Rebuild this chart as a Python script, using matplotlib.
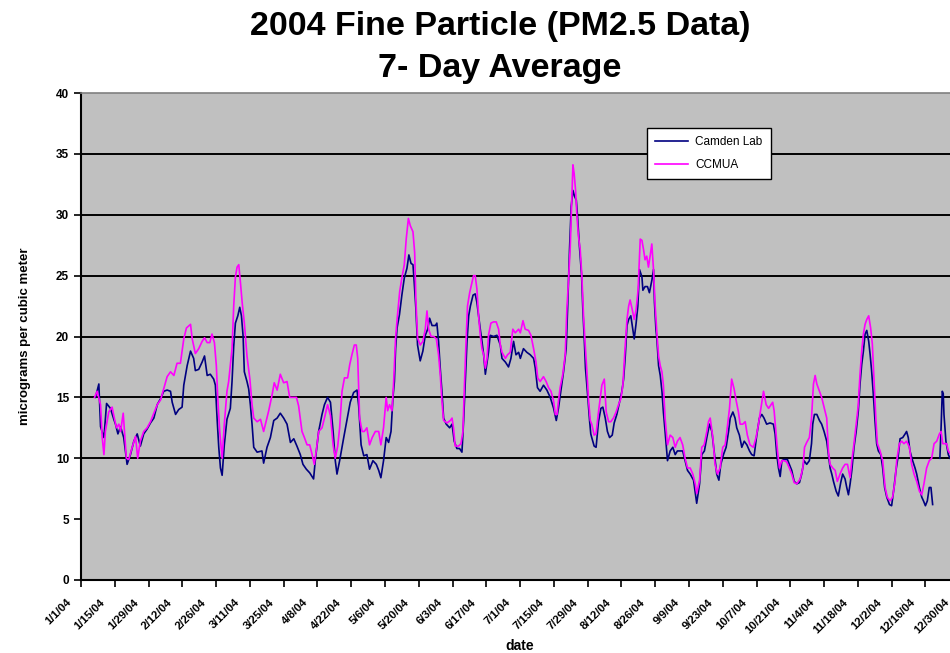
import numpy as np
import pandas as pd
import matplotlib
matplotlib.use('Agg')
import matplotlib.pyplot as plt
import matplotlib.transforms as mtransforms
from matplotlib.lines import Line2D

plt.rcParams['font.family'] = ['Liberation Sans', 'DejaVu Sans']

# day of year (0 = 1/1/04) and 7-day average PM2.5
camden_day = [6.0, 7.4, 8.1, 9.5, 10.6, 12.2, 13.6, 14.3, 15.3, 16.4,
              17.7, 19.1, 20.5, 21.9, 23.3, 24.6, 26.0, 27.4, 28.8, 30.2,
              31.6, 33.0, 34.3, 35.7, 37.1, 37.8, 39.2, 40.5, 41.9, 42.6,
              44.0, 45.4, 46.7, 47.4, 48.8, 50.2, 51.2, 52.3, 53.6, 55.0,
              55.7, 56.4, 57.1, 57.8, 58.5, 59.4, 60.5, 61.9, 62.6, 63.3,
              64.0, 65.0, 65.8, 66.5, 67.2, 67.7, 68.8, 69.5, 70.2, 70.9,
              71.6, 73.0, 75.0, 75.7, 77.1, 78.5, 79.9, 81.3, 82.6, 84.0,
              85.4, 86.8, 88.2, 89.5, 90.9, 92.0, 93.4, 94.8, 96.4, 97.1,
              98.5, 99.9, 100.9, 102.2, 103.4, 104.5, 105.4, 106.1, 107.2, 108.9,
              110.3, 111.6, 113.0, 114.4, 115.1, 116.1, 117.2, 118.5, 119.6, 121.0,
              122.4, 123.4, 124.3, 125.4, 126.5, 127.5, 128.5, 129.3, 129.9, 130.4,
              131.0, 132.0, 133.0, 134.0, 135.1, 135.9, 136.8, 137.6, 138.1, 138.8,
              139.5, 140.6, 141.7, 142.7, 143.7, 144.5, 145.5, 146.9, 147.5, 148.2,
              148.9, 149.6, 150.3, 151.4, 152.8, 153.8, 154.7, 155.8, 156.9, 157.9,
              158.6, 159.3, 160.0, 160.7, 161.4, 162.5, 163.4, 164.1, 164.8, 165.5,
              166.2, 166.9, 167.6, 168.3, 168.9, 169.6, 171.0, 172.4, 173.8, 174.5,
              175.9, 177.2, 178.2, 179.3, 180.3, 181.4, 182.1, 183.4, 184.8, 186.2,
              187.6, 188.3, 189.2, 190.3, 191.7, 193.1, 194.5, 195.9, 197.0, 197.9,
              198.9, 200.0, 201.1, 201.7, 202.5, 203.2, 203.9, 204.6, 205.3, 205.8,
              206.6, 207.5, 208.0, 208.6, 209.1, 210.0, 210.8, 211.3, 211.7, 212.7,
              213.5, 214.5, 215.5, 216.3, 217.3, 218.2, 219.1, 220.2, 221.0, 222.1,
              223.2, 224.2, 224.9, 225.6, 226.3, 227.0, 227.9, 228.7, 229.3, 230.1,
              230.8, 231.5, 232.5, 232.9, 233.8, 234.8, 235.6, 236.6, 237.3, 237.7,
              238.3, 238.7, 239.4, 240.1, 240.8, 241.4, 242.1, 243.1, 244.2, 245.3,
              246.3, 247.2, 248.3, 249.4, 250.4, 251.4, 252.5, 253.9, 255.2, 256.4,
              257.3, 258.4, 259.4, 260.5, 261.5, 262.4, 263.5, 264.4, 265.2, 266.3,
              267.4, 268.4, 269.1, 270.2, 271.1, 271.8, 272.9, 273.9, 274.9, 276.0,
              277.1, 278.0, 279.0, 280.1, 281.2, 282.2, 283.1, 284.2, 285.6, 287.0,
              287.7, 288.4, 289.1, 289.8, 290.5, 291.4, 292.8, 293.6, 294.6, 295.6,
              296.7, 297.8, 298.7, 299.7, 300.8, 301.9, 302.8, 303.3, 304.0, 305.0,
              306.1, 307.0, 308.0, 309.1, 309.8, 310.5, 311.2, 311.9, 313.0, 313.9,
              314.9, 315.7, 316.7, 317.4, 318.1, 318.8, 319.5, 320.4, 321.3, 322.2,
              322.9, 323.6, 324.3, 325.0, 325.7, 326.5, 327.1, 327.7, 328.4, 329.1,
              329.8, 330.5, 331.5, 332.3, 333.1, 334.0, 335.1, 336.0, 337.0, 337.8,
              338.8, 339.5, 340.6, 341.6, 342.2, 342.9, 343.6, 344.7, 345.7, 346.4,
              347.5, 348.5, 349.2, 350.0, 350.8, 351.6, 352.3, 353.0, 354.5, 356.0,
              356.5, 357.0, 357.4, 357.7, 358.5, 359.5, 360.2]
camden_val = [15.0, 16.1, 12.6, 11.7, 14.5, 14.1, 13.2, 12.8, 12.0, 12.6,
              11.7, 9.5, 10.3, 11.4, 12.0, 11.0, 12.0, 12.4, 12.9, 13.3,
              14.4, 14.9, 15.5, 15.6, 15.5, 14.6, 13.6, 14.0, 14.2, 16.0,
              17.6, 18.8, 18.2, 17.2, 17.3, 17.9, 18.4, 16.8, 16.9, 16.5,
              16.0, 13.3, 10.9, 9.2, 8.6, 11.1, 13.2, 14.1, 16.3, 19.2,
              21.1, 21.7, 22.4, 21.7, 20.0, 17.1, 16.3, 15.7, 14.4, 12.8,
              10.9, 10.5, 10.6, 9.6, 10.9, 11.7, 13.1, 13.3, 13.7, 13.3,
              12.8, 11.3, 11.6, 11.0, 10.3, 9.5, 9.1, 8.8, 8.3, 9.8,
              12.2, 13.6, 14.4, 15.0, 14.6, 12.2, 9.8, 8.7, 9.8, 11.7,
              13.2, 14.6, 15.4, 15.6, 14.3, 11.1, 10.2, 10.3, 9.1, 9.8,
              9.5, 9.0, 8.4, 9.8, 11.7, 11.3, 12.2, 15.0, 16.3, 19.0,
              20.7, 21.8, 23.4, 24.8, 25.6, 26.7, 26.0, 25.9, 24.5, 22.3,
              19.3, 18.0, 18.8, 20.1, 20.6, 21.5, 20.9, 20.9, 21.1, 19.6,
              17.4, 15.5, 13.3, 12.8, 12.5, 12.8, 11.4, 10.8, 10.8, 10.5,
              13.1, 16.3, 19.6, 21.7, 22.5, 23.4, 23.5, 22.8, 21.7, 20.6,
              19.6, 18.5, 16.9, 17.9, 18.7, 20.1, 20.0, 20.1, 19.3, 18.2,
              17.9, 17.5, 18.2, 19.6, 18.5, 18.7, 18.2, 19.0, 18.7, 18.5,
              18.2, 17.4, 15.8, 15.5, 16.0, 15.6, 15.0, 14.1, 13.1, 14.1,
              15.5, 17.1, 19.0, 22.3, 27.2, 30.7, 32.0, 31.5, 31.2, 29.9,
              27.4, 25.0, 22.3, 19.8, 17.4, 15.2, 13.1, 12.0, 11.7, 11.0,
              10.9, 13.0, 14.1, 14.2, 13.3, 12.2, 11.7, 11.9, 12.9, 13.6,
              14.6, 15.5, 16.5, 18.4, 20.9, 21.4, 21.7, 20.6, 19.8, 21.1,
              22.5, 25.5, 24.9, 23.8, 24.1, 24.1, 23.6, 24.6, 25.5, 22.8,
              20.6, 19.8, 17.6, 16.8, 15.5, 13.8, 12.2, 9.8, 10.6, 10.9,
              10.3, 10.6, 10.6, 10.6, 9.8, 9.0, 8.7, 8.2, 6.3, 7.9,
              10.3, 10.6, 11.7, 12.8, 12.2, 10.6, 8.7, 8.2, 9.5, 10.3,
              10.9, 12.2, 13.3, 13.8, 13.3, 12.5, 11.9, 10.9, 11.4, 11.1,
              10.6, 10.3, 10.2, 11.9, 13.3, 13.6, 13.3, 12.8, 12.9, 12.8,
              12.0, 10.3, 9.2, 8.5, 9.8, 9.9, 9.9, 9.5, 9.0, 8.1,
              7.9, 8.0, 8.7, 9.8, 9.5, 9.8, 11.2, 12.8, 13.6, 13.6,
              13.1, 12.8, 12.2, 11.4, 10.3, 9.2, 8.7, 8.1, 7.3, 6.9,
              8.0, 8.7, 8.3, 7.6, 7.0, 7.9, 9.0, 10.9, 12.2, 13.9,
              16.1, 17.7, 18.8, 20.2, 20.5, 19.6, 18.5, 17.2, 15.3, 13.1,
              11.2, 10.6, 10.3, 9.2, 7.6, 6.8, 6.2, 6.1, 7.6, 9.0,
              10.3, 11.6, 11.7, 12.0, 12.2, 11.7, 10.6, 9.8, 9.2, 8.7,
              7.6, 6.8, 6.5, 6.1, 6.5, 7.6, 7.6, 6.2, np.nan, 10.0,
              12.5, 15.5, 15.3, 13.6, 11.4, 10.3, 10.0]

ccmua_day = [5.6, 6.7, 8.1, 8.8, 9.5, 10.1, 11.5, 12.9, 13.6, 14.7,
             15.7, 16.4, 17.5, 18.2, 18.8, 19.8, 21.2, 22.6, 23.5, 24.6,
             26.0, 27.4, 28.8, 30.2, 31.6, 33.0, 34.3, 35.7, 37.1, 38.5,
             39.8, 41.2, 42.6, 43.7, 45.4, 46.1, 47.4, 48.8, 50.2, 51.2,
             52.3, 53.4, 54.3, 55.3, 56.1, 56.7, 57.5, 58.5, 59.4, 60.5,
             61.2, 62.6, 63.3, 64.0, 64.7, 65.4, 66.1, 66.8, 67.7, 68.8,
             70.0, 70.9, 71.6, 73.0, 74.4, 75.7, 76.8, 77.8, 79.2, 80.1,
             81.3, 82.6, 84.0, 85.4, 86.5, 87.5, 89.3, 90.2, 91.6, 92.6,
             93.7, 94.8, 95.8, 96.7, 97.5, 98.5, 99.9, 100.9, 102.2, 103.4,
             104.5, 105.4, 106.4, 107.2, 108.2, 109.2, 110.5, 111.4, 112.3, 113.3,
             114.1, 114.7, 115.5, 116.5, 117.4, 118.5, 119.6, 120.7, 122.0, 123.4,
             124.3, 125.4, 126.5, 127.1, 127.9, 128.9, 129.6, 130.4, 131.2, 132.1,
             133.0, 134.0, 134.8, 135.7, 136.5, 137.6, 138.3, 138.8, 139.5, 140.6,
             141.7, 142.7, 143.4, 144.1, 145.1, 146.2, 147.3, 148.2, 148.9, 149.6,
             150.3, 151.7, 153.1, 153.8, 154.4, 155.1, 156.5, 157.5, 158.3, 158.9,
             159.6, 160.2, 161.1, 162.0, 162.7, 163.4, 164.1, 164.8, 165.5, 166.2,
             166.9, 167.6, 168.3, 168.9, 169.9, 171.0, 172.1, 173.1, 173.8, 174.5,
             175.9, 176.8, 177.9, 179.0, 180.0, 181.4, 182.1, 183.2, 184.1, 185.5,
             186.5, 187.6, 188.6, 189.3, 190.3, 191.7, 192.8, 193.8, 194.8, 195.9,
             196.6, 197.3, 197.9, 198.6, 199.7, 200.7, 201.4, 202.1, 202.8, 203.5,
             203.9, 204.4, 205.0, 205.5, 206.2, 206.9, 207.6, 208.3, 209.0, 209.7,
             210.4, 211.1, 211.7, 212.7, 213.5, 214.5, 215.2, 215.9, 216.9, 217.7,
             218.7, 219.6, 220.7, 221.8, 222.8, 223.8, 224.6, 225.4, 226.3, 227.0,
             227.6, 228.5, 229.3, 230.1, 230.9, 231.8, 232.5, 233.2, 233.8, 234.5,
             235.2, 235.9, 236.6, 237.3, 238.0, 238.7, 239.4, 240.1, 240.8, 241.4,
             242.1, 243.1, 244.2, 245.3, 246.3, 247.2, 248.3, 249.4, 250.4, 251.4,
             252.5, 253.6, 254.6, 255.2, 256.4, 257.3, 258.3, 259.4, 260.1, 260.8,
             261.9, 262.8, 263.8, 264.9, 266.0, 267.0, 267.7, 268.8, 269.7, 270.7,
             271.5, 272.5, 273.2, 274.3, 275.3, 276.2, 277.3, 278.7, 279.8, 280.8,
             281.8, 282.9, 284.0, 285.0, 286.7, 287.3, 288.1, 288.7, 289.5, 290.5,
             291.4, 292.5, 293.6, 294.6, 295.6, 296.7, 298.1, 299.2, 299.9, 300.8,
             301.9, 302.8, 303.6, 304.3, 305.0, 306.1, 307.0, 308.0, 309.1, 309.8,
             310.5, 311.6, 312.6, 313.5, 314.6, 315.7, 316.7, 317.7, 318.8, 319.5,
             320.4, 321.3, 322.1, 322.9, 323.6, 324.3, 325.0, 325.7, 326.5, 327.3,
             328.0, 328.7, 329.5, 330.1, 331.2, 332.3, 333.3, 334.2, 335.3, 336.4,
             337.4, 338.1, 339.2, 340.2, 341.1, 342.2, 343.4, 344.3, 345.3, 346.4,
             347.5, 348.5, 349.4, 350.5, 351.6, 352.6, 353.6, 354.7, 355.8, 356.5,
             357.2, 358.0, 358.8, 359.5, 360.2]
ccmua_val = [15.0, 15.5, 14.4, 11.7, 10.3, 12.2, 13.8, 14.2, 13.5, 12.5,
             12.8, 12.2, 13.7, 11.7, 10.0, 9.9, 10.9, 11.8, 10.0, 11.4,
             12.2, 12.5, 13.0, 13.7, 14.4, 14.8, 15.7, 16.7, 17.1, 16.8,
             17.8, 17.8, 19.8, 20.7, 21.0, 19.8, 18.6, 19.0, 19.6, 19.9,
             19.5, 19.5, 20.2, 19.5, 17.6, 14.9, 12.2, 10.0, 12.8, 15.5,
             16.3, 19.0, 22.5, 24.9, 25.7, 25.9, 24.4, 22.8, 21.1, 18.4,
             16.5, 14.4, 13.3, 13.0, 13.2, 12.2, 13.1, 13.9, 15.2, 16.2,
             15.6, 16.9, 16.2, 16.3, 15.0, 15.0, 15.0, 14.3, 12.2, 11.7,
             11.1, 11.1, 10.3, 9.5, 10.6, 12.2, 12.5, 13.3, 14.4, 13.5,
             11.1, 10.0, 11.0, 12.5, 15.5, 16.6, 16.6, 17.7, 18.5, 19.3,
             19.3, 18.2, 13.3, 12.2, 12.2, 12.5, 11.1, 11.7, 12.2, 12.2,
             11.1, 12.5, 15.0, 13.9, 14.4, 13.9, 16.3, 19.9, 21.8, 23.7,
             24.8, 25.9, 28.0, 29.7, 29.1, 28.6, 26.9, 23.1, 19.9, 19.3,
             19.6, 20.6, 22.1, 20.6, 20.0, 20.0, 19.8, 18.5, 16.9, 14.7,
             13.1, 12.9, 13.1, 13.3, 12.5, 11.0, 11.0, 11.2, 12.2, 15.8,
             19.6, 22.5, 23.6, 24.4, 25.0, 25.0, 23.9, 21.7, 20.1, 19.0,
             18.5, 17.4, 18.2, 20.1, 21.1, 21.2, 21.2, 20.6, 19.3, 18.7,
             18.2, 18.5, 18.7, 20.6, 20.3, 20.6, 20.3, 21.3, 20.6, 20.5,
             20.1, 19.0, 17.9, 16.6, 16.3, 16.7, 16.3, 15.8, 15.5, 14.7,
             13.6, 13.6, 14.7, 15.8, 16.9, 18.5, 22.3, 24.7, 27.4, 31.5,
             34.1, 33.4, 32.0, 30.1, 28.2, 27.2, 25.0, 21.7, 19.3, 17.1,
             14.7, 13.1, 12.8, 11.9, 12.0, 13.8, 14.9, 16.0, 16.5, 13.8,
             13.0, 13.0, 13.3, 13.8, 14.4, 14.9, 16.0, 18.7, 21.4, 22.5,
             23.0, 22.2, 21.4, 22.2, 23.8, 28.0, 27.9, 27.1, 26.3, 26.6,
             25.7, 26.6, 27.6, 25.5, 22.5, 20.3, 18.4, 17.6, 17.1, 16.0,
             13.3, 11.1, 11.9, 11.7, 10.9, 11.4, 11.7, 11.1, 10.0, 9.2,
             9.2, 8.7, 7.9, 7.1, 8.2, 10.9, 11.1, 12.2, 13.0, 13.3,
             11.7, 9.5, 8.7, 9.2, 10.9, 11.1, 12.2, 14.1, 16.5, 15.7,
             14.8, 13.8, 12.8, 12.8, 13.0, 11.9, 11.1, 10.9, 11.7, 12.8,
             14.1, 15.5, 14.4, 14.1, 14.6, 13.9, 12.0, 10.6, 9.2, 9.8,
             9.8, 9.7, 9.2, 8.7, 8.0, 7.9, 8.3, 9.2, 10.9, 11.3,
             11.7, 13.3, 16.1, 16.8, 16.1, 15.5, 15.0, 14.2, 13.3, 10.6,
             9.5, 9.2, 9.0, 8.1, 8.7, 9.2, 9.5, 9.5, 8.4, 9.8,
             11.2, 12.8, 14.2, 16.9, 18.8, 20.2, 21.0, 21.4, 21.7, 20.7,
             19.4, 16.4, 13.1, 11.2, 10.6, 9.8, 7.6, 6.8, 6.5, 6.8,
             8.1, 9.8, 11.2, 11.4, 11.2, 11.4, 10.9, 9.5, 8.7, 8.1,
             7.3, 7.0, 7.9, 9.2, 9.8, 10.0, 11.2, 11.4, 12.0, 12.2,
             11.2, 11.2, 11.2, 10.6, 10.4]

series_names = ['Camden Lab', 'CCMUA']
series_colors = ['#000080', '#FF00FF']
y_ticks = [0, 5, 10, 15, 20, 25, 30, 35, 40]
grid_levels = [10, 15, 20, 25, 30, 35]

start = pd.Timestamp('2004-01-01')
camden_dates = start + pd.to_timedelta(camden_day, unit='D')
ccmua_dates = start + pd.to_timedelta(ccmua_day, unit='D')
tick_dates = pd.date_range('2004-01-01', '2004-12-30', freq='14D')
tick_labels = [f"{d.month}/{d.day}/04" for d in tick_dates]

W, H = 950, 653
fig = plt.figure(figsize=(W / 100, H / 100), dpi=100)
# plot area runs a bit past the right edge of the picture (cropped original)
ax = fig.add_axes([81 / W, (H - 580) / H, (964 - 81) / W, (580 - 93) / H])
ax.set_facecolor('#C0C0C0')

for lvl in grid_levels:
    ax.axhline(lvl, color='black', lw=1.4, zorder=1)

ax.plot(camden_dates, camden_val, color=series_colors[0], lw=1.2, zorder=3)
ax.plot(ccmua_dates, ccmua_val, color=series_colors[1], lw=1.2, zorder=4)

ax.set_ylim(0, 40)
ax.set_xlim(start, start + pd.Timedelta(days=366))
ax.set_yticks(y_ticks)
ax.set_yticklabels([str(v) for v in y_ticks], fontsize=8.5, fontweight='bold')
ax.set_xticks(tick_dates)
ax.set_xticklabels([])
ax.tick_params(axis='both', direction='out', length=5, width=1.2, color='black')

# slanted date labels, drawn by hand so they can sit left/below of each tick
lab_tr = mtransforms.blended_transform_factory(ax.transData, ax.transAxes) + \
    mtransforms.ScaledTranslation(-0.15, -0.17, fig.dpi_scale_trans)
for d, txt in zip(tick_dates, tick_labels):
    ax.text(d, 0, txt, transform=lab_tr, fontsize=8.2, fontweight='bold', rotation=45,
            ha='right', va='top', rotation_mode='anchor', clip_on=False)

for side in ['left', 'bottom']:
    ax.spines[side].set_color('black')
    ax.spines[side].set_linewidth(1.5)
ax.spines['top'].set_color('#808080')
ax.spines['top'].set_linewidth(1.2)
ax.spines['right'].set_visible(False)

ax.set_ylabel('micrograms per cubic meter', fontsize=9.5, fontweight='bold', labelpad=18)
fig.text(520 / W, 1 - 646 / H, 'date', fontsize=10, fontweight='bold', ha='center', va='center')

fig.text(500 / W, 1 - 26 / H, '2004 Fine Particle (PM2.5 Data)', fontsize=24.5,
         fontweight='bold', ha='center', va='center')
fig.text(500 / W, 1 - 68 / H, '7- Day Average', fontsize=24.5,
         fontweight='bold', ha='center', va='center')

handles = [Line2D([], [], color=c, lw=1.2) for c in series_colors]
leg = ax.legend(handles, series_names, loc='upper left', bbox_to_anchor=(0.641, 0.928),
                borderaxespad=0, fontsize=8.5, frameon=True, fancybox=False, shadow=False,
                handlelength=2.8, borderpad=0.7, labelspacing=0.9, handletextpad=0.6)
leg.get_frame().set_edgecolor('black')
leg.get_frame().set_linewidth(1.0)
leg.get_frame().set_facecolor('white')
leg.get_frame().set_alpha(1)

fig.savefig('out.png', dpi=100)
